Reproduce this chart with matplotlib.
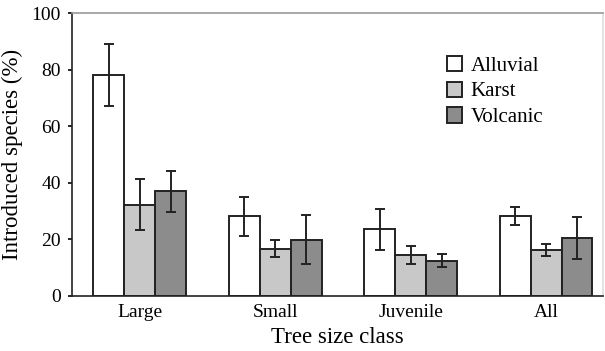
import matplotlib
matplotlib.use('Agg')
from matplotlib import pyplot as plt
import numpy as np

plt.rcParams['font.family'] = 'Liberation Serif'

classes = ['Large', 'Small', 'Juvenile', 'All']
series = ['Alluvial', 'Karst', 'Volcanic']
alluvial = [78.2, 28.1, 23.5, 28.2]
alluvial_err = [11.0, 7.0, 7.2, 3.1]
karst = [32.3, 16.7, 14.5, 16.2]
karst_err = [9.0, 3.0, 3.2, 2.2]
volcanic = [37.0, 19.9, 12.5, 20.5]
volcanic_err = [7.2, 8.7, 2.2, 7.5]
colors = ['white', '#c8c8c8', '#8c8c8c']

fig = plt.figure(figsize=(6.05, 3.51), dpi=100)
ax = fig.add_axes([72 / 605, 1 - 296 / 351, 531 / 605, 283 / 351])

x = np.arange(len(classes))
w = 0.228
for i, (vals, errs) in enumerate([(alluvial, alluvial_err), (karst, karst_err), (volcanic, volcanic_err)]):
    ax.bar(x + (i - 1) * w, vals, w, color=colors[i], edgecolor='#222222', linewidth=1.4,
           yerr=errs, capsize=3.5, error_kw=dict(elinewidth=1.4, capthick=1.4, ecolor='#222222'),
           label=series[i], zorder=2)

ax.set_xlim(-0.5, 3.42)
ax.set_ylim(0, 100)
ax.set_yticks(range(0, 101, 20))
ax.set_xticks(x)
ax.set_xticklabels(classes)
ax.tick_params(axis='x', length=0, pad=6, labelsize=14)
ax.tick_params(axis='y', length=3, width=1.2, direction='out', labelsize=14, pad=5)
for s in ax.spines.values():
    s.set_linewidth(1.2)
    s.set_color('#222222')
ax.spines['top'].set_color('#999999')
ax.spines['right'].set_color('#dddddd')

ax.set_xlabel('Tree size class', fontsize=16.5, labelpad=4)
ax.set_ylabel('Introduced species (%)', fontsize=16.5, labelpad=6)

ax.legend(loc='upper left', bbox_to_anchor=(0.67, 0.915), frameon=False, fontsize=15,
          handlelength=0.75, handleheight=0.75, handletextpad=0.4, labelspacing=0.28)

plt.savefig('out.png', dpi=100)
